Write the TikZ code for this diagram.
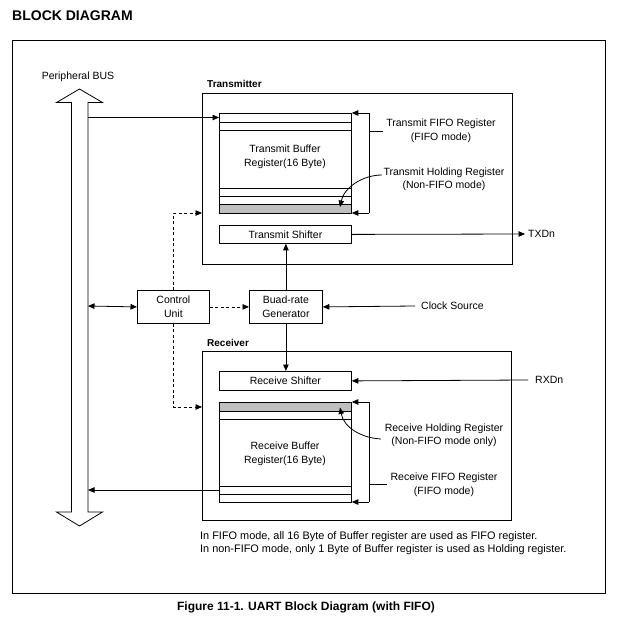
\documentclass[tikz,border=0pt]{standalone}
\usepackage{fontspec}
\setmainfont{Liberation Sans}
\usetikzlibrary{arrows.meta}
\begin{document}
\begin{tikzpicture}[x=1pt,y=-1pt,
  every node/.style={font=\fontsize{10.5}{13.5}\selectfont, inner sep=0pt},
  blk/.style={draw, line width=0.8pt, anchor=north west, align=center},
  lbl/.style={align=center},
  ln/.style={line width=0.8pt},
  arr/.style={line width=0.8pt, -{Triangle[length=6.5pt,width=5.5pt]}},
  darr/.style={line width=0.8pt, {Triangle[length=6.5pt,width=5.5pt]}-{Triangle[length=6.5pt,width=5.5pt]}},
  dsh/.style={dash pattern=on 3pt off 2.5pt},
  bold/.style={font=\fontsize{10}{12}\selectfont\bfseries}
]
\useasboundingbox (0,0) rectangle (616,624);

% title and frame
\node[anchor=west, font=\fontsize{14}{16}\selectfont\bfseries] (title) at (12,16) {BLOCK DIAGRAM};
\draw[ln] (12,40) rectangle (605,593);

% peripheral bus
\node (buslbl) at (78,77) {Peripheral BUS};
\draw[ln, fill=white] (79.5,89) -- (102.5,102.5) -- (88,102.5) -- (88,512) -- (102.5,512)
  -- (79.5,526) -- (56.5,512) -- (71.5,512) -- (71.5,102.5) -- (56.5,102.5) -- cycle;
\coordinate (busA) at (88,117.5);
\coordinate (busB) at (88,306);
\coordinate (busC) at (88,490);

% transmitter
\node[bold, anchor=west] (txlbl) at (207,84) {Transmitter};
\node[blk, minimum width=310pt, minimum height=171pt] (txbox) at (202,93) {};
\fill[gray!50] (219,204.7) rectangle (351,213);
\node[blk, minimum width=132pt, minimum height=100pt] (txbuf) at (219,113) {};
\draw[ln] (219,122) -- (351,122);
\draw[ln] (219,130) -- (351,130);
\draw[ln] (219,188) -- (351,188);
\draw[ln] (219,196) -- (351,196);
\draw[ln] (219,204.7) -- (351,204.7);
\node[lbl] (txbuftxt) at (285,157) {Transmit Buffer\\Register(16 Byte)};
\node[blk, minimum width=132pt, minimum height=18pt] (txsh) at (219,225) {Transmit Shifter};
\draw[arr] (busA) -- (busA -| txbuf.west);

\coordinate (txbrT) at (369,113);
\coordinate (txbrB) at (369,213);
\coordinate (txbrM) at (369,131);
\draw[arr] (txbrT) -- (txbrT -| txbuf.east);
\draw[ln] (txbrT) -- (txbrB);
\draw[arr] (txbrB) -- (txbrB -| txbuf.east);
\node[lbl] (txfifo) at (441,131) {Transmit FIFO Register\\(FIFO mode)};
\draw[ln] (txbrM) -- ([xshift=-3pt]txbrM -| txfifo.west);
\node[lbl] (txhold) at (444,179.5) {Transmit Holding Register\\(Non-FIFO mode)};
\coordinate (txholdS) at (382,175);
\coordinate (txholdE) at (340,207);
\draw[arr] (txholdS) .. controls (362,175) and (344,188) .. (txholdE);

\node[anchor=west] (txd) at (528,234) {TXDn};
\draw[arr] (txsh.east) -- ([xshift=-3pt]txd.west);

% control and baud
\node[blk, minimum width=72pt, minimum height=33pt] (ctrl) at (137,290) {Control\\Unit};
\node[blk, minimum width=73pt, minimum height=33pt] (baud) at (249,290) {Buad-rate\\Generator};
\node[anchor=west] (clk) at (421,306) {Clock Source};
\draw[arr] ([xshift=-6pt]clk.west) -- (baud.east);
\draw[darr] (busB) -- (ctrl.west);
\draw[arr, dsh] (ctrl.east) -- (baud.west);
\coordinate (txdash) at (202,213);
\coordinate (rxdash) at (202,407);
\draw[arr, dsh] (ctrl.north) |- (txdash);
\draw[arr, dsh] (ctrl.south) |- (rxdash);
\draw[arr] (baud.north) -- (baud.north |- txsh.south);

% receiver
\node[bold, anchor=west] (rxlbl) at (207,343) {Receiver};
\node[blk, minimum width=309pt, minimum height=169pt] (rxbox) at (202,351) {};
\node[blk, minimum width=132pt, minimum height=19pt] (rxsh) at (219,371) {Receive Shifter};
\draw[arr] (baud.south) -- (baud.south |- rxsh.north);
\node[anchor=west] (rxd) at (535,380) {RXDn};
\draw[arr] ([xshift=-7pt]rxd.west) -- (rxsh.east);

\fill[gray!50] (219,402) rectangle (351,411);
\node[blk, minimum width=132pt, minimum height=100pt] (rxbuf) at (219,402) {};
\draw[ln] (219,411) -- (351,411);
\draw[ln] (219,419.3) -- (351,419.3);
\draw[ln] (219,486.5) -- (351,486.5);
\draw[ln] (219,494.3) -- (351,494.3);
\node[lbl] (rxbuftxt) at (285,454) {Receive Buffer\\Register(16 Byte)};

\coordinate (rxbrT) at (369,402);
\coordinate (rxbrB) at (369,502);
\coordinate (rxbrM) at (369,484);
\draw[arr] (rxbrT) -- (rxbrT -| rxbuf.east);
\draw[ln] (rxbrT) -- (rxbrB);
\draw[arr] (rxbrB) -- (rxbrB -| rxbuf.east);
\node[lbl] (rxfifo) at (444,485) {Receive FIFO Register\\(FIFO mode)};
\draw[ln] (rxbrM) -- ([xshift=-3pt]rxbrM -| rxfifo.west);
\node[lbl] (rxhold) at (444,435.5) {Receive Holding Register\\(Non-FIFO mode only)};
\coordinate (rxholdS) at (381,439);
\coordinate (rxholdE) at (340,407.5);
\draw[arr] (rxholdS) .. controls (362,438) and (344,428) .. (rxholdE);

\coordinate (rxout) at (219,490);
\draw[arr] (rxout) -- (busC);

% note and caption
\node[anchor=west, align=left, font=\fontsize{10.9}{13}\selectfont] (note) at (200,543.5)
  {In FIFO mode, all 16 Byte of Buffer register are used as FIFO register.\\In non-FIFO mode, only 1 Byte of Buffer register is used as Holding register.};
\node[font=\fontsize{12}{14}\selectfont\bfseries] (cap) at (306,607) {Figure 11-1. UART Block Diagram (with FIFO)};
\end{tikzpicture}
\end{document}
